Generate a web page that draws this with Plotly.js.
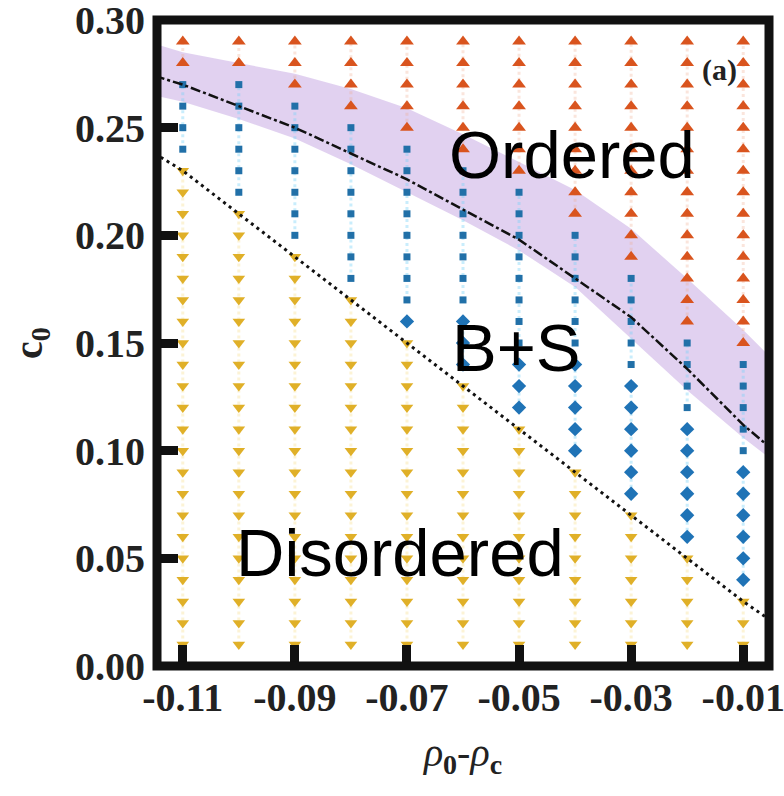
<!DOCTYPE html>
<html>
<head>
<meta charset="utf-8">
<script src="https://cdn.plot.ly/plotly-3.0.1.min.js"></script>
<style>
  html, body { margin: 0; padding: 0; background: #ffffff; }
  #chart { width: 784px; height: 796px; }
</style>
</head>
<body>
<div id="chart"></div>
<script>
// ---------------- data ----------------
// columns: rho0 - rhoc
const rhoCols = [-0.11, -0.10, -0.09, -0.08, -0.07, -0.06, -0.05, -0.04, -0.03, -0.02, -0.01];
// c0 grid of each column
const c0Grid = [0.01, 0.02, 0.03, 0.04, 0.05, 0.06, 0.07, 0.08, 0.09, 0.10,
                0.11, 0.12, 0.13, 0.14, 0.15, 0.16, 0.17, 0.18, 0.19, 0.20,
                0.21, 0.22, 0.23, 0.24, 0.25, 0.26, 0.27, 0.28, 0.29];
// phase of each grid point (c0 = 0.01 ... 0.29), one string per column
// D = disordered, M = diamond (B+S), S = square (B+S), O = ordered
const phaseCols = [
  "DDDDD DDDDD DDDDD DDDDD DDDSS SSOO",
  "DDDDD DDDDD DDDDD DDDDD DSSSS SSOO",
  "DDDDD DDDDD DDDDD DDDDS SSSSS SOOO",
  "DDDDD DDDDD DDDDD DDSSS SSSSS OOOO",
  "DDDDD DDDDD DDDDD MSSSS SSSSO OOOO",
  "DDDDD DDDDD DDDMM MSSSS SSSOO OOOO",
  "DDDDD DDDDD DMMMS SSSSS SSOOO OOOO",
  "DDDDD DDDDM MMMMS SSSSS OOOOO OOOO",
  "DDDDD DDMMM MMMSS SSSOO OOOOO OOOO",
  "DDDDD MMMMM MSSSS OOOOO OOOOO OOOO",
  "DDDMM MMMMS SSSSO OOOOO OOOOO OOOO"
];
// shaded band and boundary lines
const bandX     = [-0.115, -0.11, -0.10, -0.09, -0.08, -0.07, -0.06, -0.05, -0.04, -0.03, -0.02, -0.01, -0.005];
const bandUpper = [0.289, 0.285, 0.280, 0.275, 0.268, 0.259, 0.247, 0.234, 0.221, 0.203, 0.180, 0.156, 0.143];
const bandLower = [0.265, 0.262, 0.254, 0.245, 0.233, 0.220, 0.207, 0.193, 0.176, 0.152, 0.128, 0.106, 0.096];
const dashX = [-0.115, -0.11, -0.10, -0.09, -0.08, -0.07, -0.06, -0.05, -0.04, -0.03, -0.02, -0.01, -0.005];
const dashY = [0.274, 0.270, 0.260, 0.250, 0.238, 0.226, 0.212, 0.198, 0.180, 0.162, 0.138, 0.112, 0.101];
const dotX  = [-0.115, -0.11, -0.10, -0.09, -0.08, -0.07, -0.06, -0.05, -0.04, -0.03, -0.02, -0.01, -0.005];
const dotY  = [0.238, 0.230, 0.210, 0.190, 0.170, 0.150, 0.130, 0.110, 0.090, 0.070, 0.050, 0.030, 0.021];
// ticks
const xTickVals = [-0.11, -0.09, -0.07, -0.05, -0.03, -0.01];
const xTickText = ["-0.11", "-0.09", "-0.07", "-0.05", "-0.03", "-0.01"];
const yTickVals = [0.00, 0.05, 0.10, 0.15, 0.20, 0.25, 0.30];
const yTickText = ["0.00", "0.05", "0.10", "0.15", "0.20", "0.25", "0.30"];
// region labels
const regionText = ["Ordered", "B+S", "Disordered"];
const regionX = [-0.0405, -0.0505, -0.0712];
const regionY = [0.2375, 0.1480, 0.0525];

// ---------------- build ----------------
const styles = {
  O: {symbol: 'triangle-up',   size: 12, color: '#D9541E', line: 'rgba(240,170,140,0.30)'},
  S: {symbol: 'square',        size: 7,  color: '#2170A8', line: 'rgba(120,210,248,0.40)'},
  M: {symbol: 'diamond',       size: 11, color: '#1F73B6', line: 'rgba(120,210,248,0.40)'},
  D: {symbol: 'triangle-down', size: 11, color: '#E0B028', line: 'rgba(248,225,150,0.40)'}
};
const pts = {O: {x: [], y: []}, S: {x: [], y: []}, M: {x: [], y: []}, D: {x: [], y: []}};
const segs = {O: {x: [], y: []}, S: {x: [], y: []}, M: {x: [], y: []}, D: {x: [], y: []}};

rhoCols.forEach((xv, ci) => {
  const ph = phaseCols[ci].replace(/ /g, '');
  let prev = null;
  for (let k = 0; k < c0Grid.length; k++) {
    const p = ph[k];
    pts[p].x.push(xv); pts[p].y.push(c0Grid[k]);
    if (p !== prev && prev !== null) { segs[prev].x.push(null); segs[prev].y.push(null); }
    segs[p].x.push(xv); segs[p].y.push(c0Grid[k]);
    prev = p;
  }
  segs[prev].x.push(null); segs[prev].y.push(null);
});

const traces = [];
// band
traces.push({
  x: bandX.concat(bandX.slice().reverse()),
  y: bandUpper.concat(bandLower.slice().reverse()),
  mode: 'lines', fill: 'toself', fillcolor: 'rgba(200,172,228,0.55)',
  line: {width: 0, color: 'rgba(0,0,0,0)'}, hoverinfo: 'skip', showlegend: false
});
// faint column lines
['D', 'S', 'M', 'O'].forEach(p => {
  traces.push({
    x: segs[p].x, y: segs[p].y, mode: 'lines',
    line: {color: styles[p].line, width: 3, dash: '3px,3px'}, connectgaps: false,
    hoverinfo: 'skip', showlegend: false
  });
});
// markers
['D', 'S', 'M', 'O'].forEach(p => {
  traces.push({
    x: pts[p].x, y: pts[p].y, mode: 'markers',
    marker: {symbol: styles[p].symbol, size: styles[p].size, color: styles[p].color, line: {width: 0}},
    showlegend: false
  });
});
// boundaries
traces.push({x: dashX, y: dashY, mode: 'lines', line: {color: '#111', width: 2.5, dash: '10px,3px,3px,3px'}, showlegend: false});
traces.push({x: dotX, y: dotY, mode: 'lines', line: {color: '#111', width: 3, dash: '3px,4px'}, showlegend: false});

const serif = 'Liberation Serif, Times New Roman, serif';
const annotations = regionText.map((t, i) => ({
  x: regionX[i], y: regionY[i], xref: 'x', yref: 'y', text: t, showarrow: false,
  font: {family: 'Liberation Sans, Arial, sans-serif', size: 67, color: '#000'},
  xanchor: 'center', yanchor: 'middle'
}));
annotations.push({
  x: -0.0143, y: 0.277, xref: 'x', yref: 'y', text: '<b>(a)</b>', showarrow: false,
  font: {family: serif, size: 30, color: '#222'}, xanchor: 'center', yanchor: 'middle'
});

const layout = {
  width: 784, height: 796,
  margin: {l: 157, r: 15, t: 20, b: 130, pad: 0},
  paper_bgcolor: '#ffffff', plot_bgcolor: '#ffffff',
  showlegend: false,
  xaxis: {
    range: [-0.1146, -0.0054], showgrid: false, zeroline: false, showline: false,
    tickvals: xTickVals, ticktext: xTickText,
    ticks: 'inside', ticklen: 21, tickwidth: 9, tickcolor: '#111',
    ticklabelstandoff: 4, ticklabeloverflow: 'allow',
    tickfont: {family: serif, size: 40, color: '#222', weight: 'bold'},
    title: {text: '<i>ρ</i><sub><b>0</b></sub>-<i>ρ</i><sub><b>c</b></sub>',
            font: {family: serif, size: 40, color: '#222'}, standoff: 18}
  },
  yaxis: {
    range: [0, 0.30], showgrid: false, zeroline: false, showline: false,
    tickvals: yTickVals, ticktext: yTickText,
    ticks: 'inside', ticklen: 21, tickwidth: 9, tickcolor: '#111',
    ticklabelstandoff: 11, ticklabeloverflow: 'allow',
    tickfont: {family: serif, size: 40, color: '#222', weight: 'bold'},
    title: {text: '<b>c<sub>0</sub></b>', font: {family: serif, size: 40, color: '#222'}, standoff: 20}
  },
  shapes: [{
    type: 'rect', xref: 'paper', yref: 'paper', x0: 0, x1: 1, y0: 0, y1: 1,
    line: {color: '#111', width: 9}, fillcolor: 'rgba(0,0,0,0)', layer: 'above'
  }],
  annotations: annotations
};

Plotly.newPlot('chart', traces, layout, {displayModeBar: false, staticPlot: true});
</script>
</body>
</html>
